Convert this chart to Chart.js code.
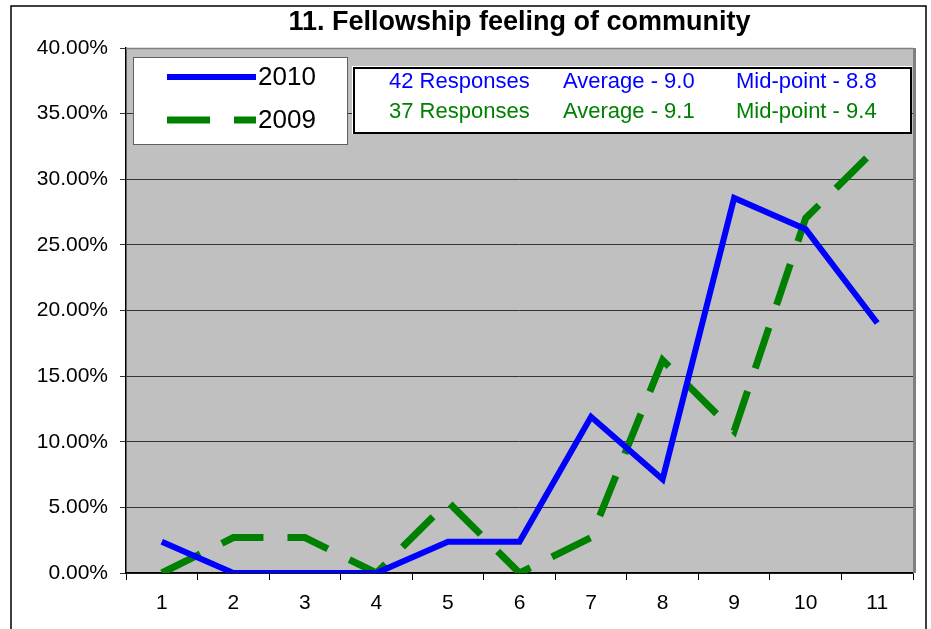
<!DOCTYPE html>
<html>
<head>
<meta charset="utf-8">
<script src="https://cdn.jsdelivr.net/npm/chart.js@4/dist/chart.umd.min.js"></script>
<style>
    body { margin: 0; background: #ffffff; }
    #wrap { width: 931px; height: 629px; position: relative; }
</style>
</head>
<body>
<div id="wrap"><canvas id="chart"></canvas></div>
<script>
// dados do gráfico
var categories = ["1", "2", "3", "4", "5", "6", "7", "8", "9", "10", "11"];
var values2010 = [2.38, 0, 0, 0, 2.38, 2.38, 11.90, 7.14, 28.57, 26.19, 19.05];
var values2009 = [0, 2.70, 2.70, 0, 5.41, 0, 2.70, 16.22, 10.81, 27.03, 32.43];
var yTicks = [0, 5, 10, 15, 20, 25, 30, 35, 40];
var titleText = "11. Fellowship feeling of community";
var infoRows = [
    ["42 Responses", "Average - 9.0", "Mid-point - 8.8"],
    ["37 Responses", "Average - 9.1", "Mid-point - 9.4"]
];

var FONT = "'Liberation Sans', Arial, sans-serif";

/**
 * Desenha o fundo, a moldura, o título e as caixas de legenda
 */
var excelLook = {
    id: "excelLook",
    beforeDraw: function (chart) {
        var ctx = chart.ctx;
        var a = chart.chartArea;
        ctx.save();
        ctx.fillStyle = "#ffffff";
        ctx.fillRect(0, 0, chart.width, chart.height);
        ctx.strokeStyle = "#000000";
        ctx.lineWidth = 1.5;
        ctx.strokeRect(11, 6, 915, chart.height);
        ctx.fillStyle = "#c0c0c0";
        ctx.fillRect(a.left, a.top, a.right - a.left, a.bottom - a.top);
        ctx.restore();
    },
    afterDraw: function (chart) {
        var ctx = chart.ctx;
        var a = chart.chartArea;
        ctx.save();

        // moldura da área do gráfico
        ctx.strokeStyle = "#808080";
        ctx.lineWidth = 1.5;
        ctx.beginPath();
        ctx.moveTo(a.left, a.top + 0.5);
        ctx.lineTo(a.right, a.top + 0.5);
        ctx.stroke();
        ctx.lineWidth = 3;
        ctx.beginPath();
        ctx.moveTo(a.right + 1.5, a.top);
        ctx.lineTo(a.right + 1.5, a.bottom);
        ctx.stroke();

        // título
        ctx.fillStyle = "#000000";
        ctx.font = "bold 27px " + FONT;
        ctx.textAlign = "center";
        ctx.textBaseline = "middle";
        ctx.fillText(titleText, (a.left + a.right) / 2, 23);

        // legenda
        ctx.fillStyle = "#ffffff";
        ctx.fillRect(133, 57, 214, 87);
        ctx.strokeStyle = "#606060";
        ctx.lineWidth = 1;
        ctx.strokeRect(133.5, 57.5, 214, 87);
        var ds = chart.data.datasets;
        var rowsY = [77, 120];
        for (var i = 0; i < ds.length; i++) {
            ctx.strokeStyle = ds[i].borderColor;
            ctx.lineWidth = ds[i].borderWidth;
            ctx.lineCap = "butt";
            ctx.setLineDash(ds[i].borderDash || []);
            ctx.beginPath();
            ctx.moveTo(167, rowsY[i]);
            ctx.lineTo(256, rowsY[i]);
            ctx.stroke();
            ctx.setLineDash([]);
            ctx.fillStyle = "#000000";
            ctx.font = "26px " + FONT;
            ctx.textAlign = "left";
            ctx.fillText(ds[i].label, 258, rowsY[i] + 1);
        }

        // caixa de informações
        ctx.fillStyle = "#ffffff";
        ctx.fillRect(352, 66, 560, 68);
        ctx.strokeStyle = "#000000";
        ctx.lineWidth = 2;
        ctx.strokeRect(354, 68, 557, 65);
        var cols = [389, 563, 736];
        var infoY = [82, 112];
        ctx.font = "22px " + FONT;
        for (var r = 0; r < infoRows.length; r++) {
            ctx.fillStyle = ds[r].borderColor;
            for (var c = 0; c < cols.length; c++) {
                ctx.fillText(infoRows[r][c], cols[c], infoY[r]);
            }
        }
        ctx.restore();
    }
};

document.addEventListener("DOMContentLoaded", function () {
    var ctx = document.getElementById("chart").getContext("2d");

    new Chart(ctx, {
        type: "line",
        data: {
            labels: categories,
            datasets: [
                {
                    label: "2010",
                    data: values2010,
                    borderColor: "#0000ff",
                    borderWidth: 6,
                    pointRadius: 0,
                    tension: 0,
                    fill: false
                },
                {
                    label: "2009",
                    data: values2009,
                    borderColor: "#008000",
                    borderWidth: 7,
                    borderDash: [43, 24],
                    pointRadius: 0,
                    tension: 0,
                    fill: false
                }
            ]
        },
        options: {
            responsive: true,
            maintainAspectRatio: false,
            animation: false,
            layout: {
                padding: { top: 48, right: 18, bottom: 0, left: 0 }
            },
            plugins: {
                legend: { display: false },
                title: { display: false },
                tooltip: { enabled: false }
            },
            scales: {
                x: {
                    offset: true,
                    grid: {
                        offset: true,
                        drawOnChartArea: false,
                        drawTicks: true,
                        tickLength: 7,
                        color: "#000000"
                    },
                    border: { color: "#000000", width: 1.5 },
                    ticks: {
                        color: "#000000",
                        font: { family: FONT, size: 21 },
                        padding: 11,
                        maxRotation: 0
                    },
                    afterFit: function (scale) {
                        scale.height = 56;
                    }
                },
                y: {
                    min: 0,
                    max: 40,
                    afterBuildTicks: function (scale) {
                        scale.ticks = yTicks.map(function (v) { return { value: v }; });
                    },
                    grid: {
                        color: "#333333",
                        drawTicks: true,
                        tickLength: 6
                    },
                    border: { color: "#000000", width: 1.5 },
                    ticks: {
                        color: "#000000",
                        font: { family: FONT, size: 21 },
                        padding: 12,
                        callback: function (v) { return v.toFixed(2) + "%"; }
                    },
                    afterFit: function (scale) {
                        scale.width = 126;
                    }
                }
            }
        },
        plugins: [excelLook]
    });
});
</script>
</body>
</html>
